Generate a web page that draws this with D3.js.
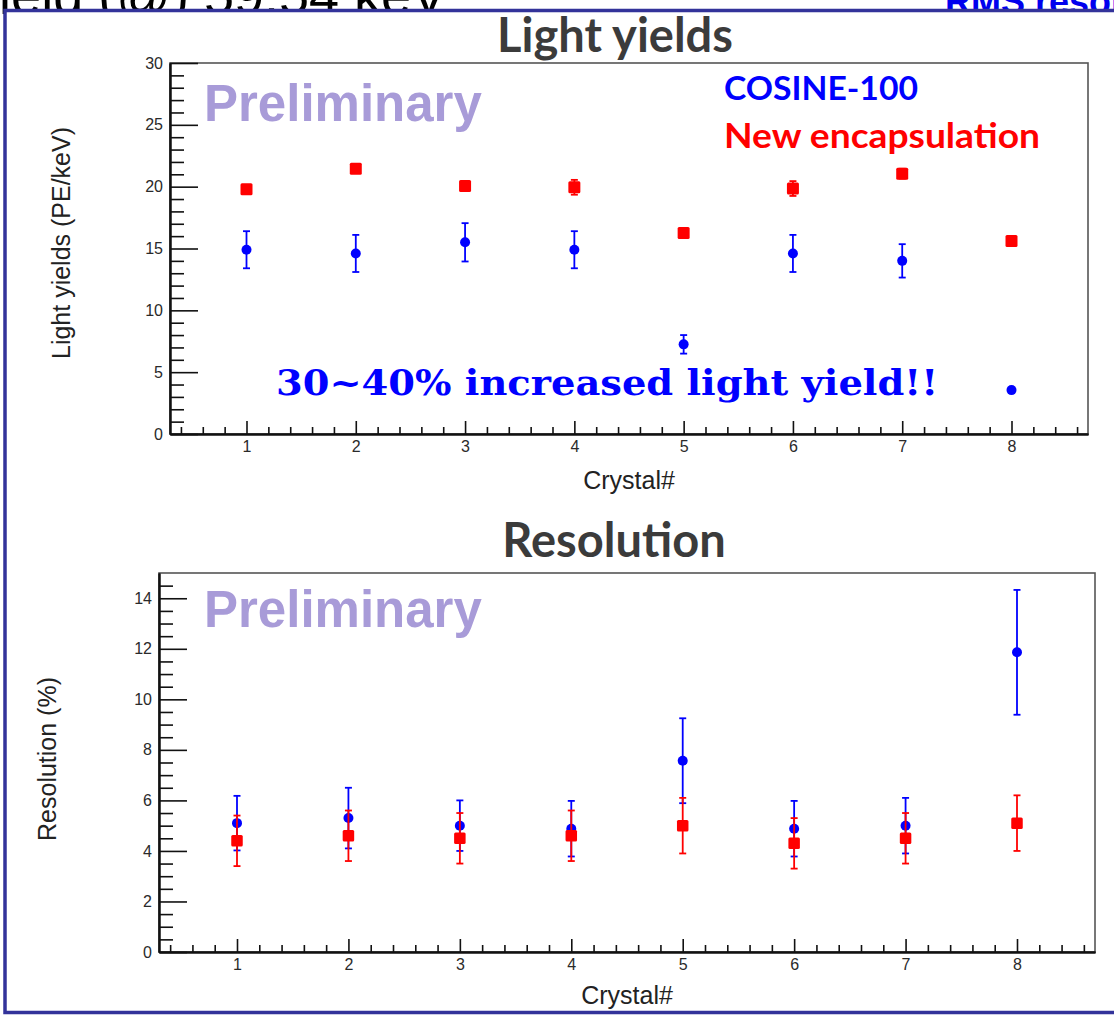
<!DOCTYPE html>
<html>
<head>
<meta charset="utf-8">
<script src="https://cdn.jsdelivr.net/npm/d3@7"></script>
<style>
  html, body { margin: 0; padding: 0; background: #ffffff; }
  svg { display: block; }
</style>
</head>
<body>
<svg id="chart" width="1114" height="1017"></svg>
<script>
// Crystal numbers shared by both panels
const crystals = [1, 2, 3, 4, 5, 6, 7, 8];

// Light yield (PE/keV) with uncertainties
const lyCosine    = [14.9, 14.6, 15.5, 14.9, 7.25, 14.6, 14.0, 3.55];
const lyCosineErr = [1.5, 1.5, 1.55, 1.5, 0.75, 1.5, 1.35, 0.2];
const lyNew       = [19.8, 21.45, 20.05, 19.95, 16.25, 19.85, 21.05, 15.6];
const lyNewErr    = [0.3, 0.3, 0.3, 0.6, 0.3, 0.6, 0.4, 0.25];

// Energy resolution (%) with uncertainties
const resCosine    = [5.1, 5.3, 5.0, 4.88, 7.57, 4.88, 5.0, 11.86];
const resCosineErr = [1.08, 1.2, 1.0, 1.1, 1.68, 1.1, 1.1, 2.47];
const resNew       = [4.4, 4.6, 4.5, 4.6, 5.0, 4.3, 4.5, 5.1];
const resNewErr    = [1.0, 1.0, 1.0, 1.0, 1.1, 1.0, 1.0, 1.1];

// Axis ticks
const xMajorTicks = [1, 2, 3, 4, 5, 6, 7, 8];
const lyMajorTicks = [0, 5, 10, 15, 20, 25, 30];
const resMajorTicks = [0, 2, 4, 6, 8, 10, 12, 14];

const svg = d3.select("#chart");
const SANS = "'Liberation Sans', Arial, Helvetica, sans-serif";
const TITLE_FONT = "Lato, 'Open Sans', sans-serif";
const BLUE = "#0000ff", RED = "#ff0000";

// Slide text lying behind the figure box
svg.append("text")
  .attr("x", -160).attr("y", 14)
  .attr("font-family", SANS).attr("font-size", 54)
  .attr("fill", "#000")
  .text("Light yield (@) 59.54 keV");
svg.append("text")
  .attr("x", 945).attr("y", 14)
  .attr("font-family", SANS).attr("font-size", 36).attr("font-weight", "bold")
  .attr("fill", "#0000ee")
  .text("RMS resolution");

// Figure box
svg.append("rect")
  .attr("x", 5).attr("y", 10.5).attr("width", 1130).attr("height", 1002)
  .attr("fill", "#ffffff").attr("stroke", "#33339a").attr("stroke-width", 3.5);

function range(a, b, step) {
  const out = [];
  for (let v = a; v <= b + 1e-9; v += step) out.push(+v.toFixed(3));
  return out;
}

function drawPanel(cfg) {
  const x = d3.scaleLinear().domain([0.3, 8.7]).range([cfg.left, cfg.right]);
  const y = d3.scaleLinear().domain(cfg.yDomain).range([cfg.bottom, cfg.top]);
  const g = svg.append("g");

  // Panel title
  g.append("text")
    .attr("x", cfg.titleX).attr("y", cfg.titleY)
    .attr("text-anchor", "middle")
    .attr("font-family", TITLE_FONT).attr("font-weight", "bold")
    .attr("font-size", 47).attr("fill", "#3b3b3b")
    .text(cfg.title);

  // Frame
  g.append("rect")
    .attr("x", cfg.left).attr("y", cfg.top)
    .attr("width", cfg.right - cfg.left).attr("height", cfg.bottom - cfg.top)
    .attr("fill", "none").attr("stroke", "#555").attr("stroke-width", 1.6);

  // Minor ticks
  const yMinor = g.append("g").attr("transform", `translate(${cfg.left},0)`)
    .call(d3.axisLeft(y).tickValues(cfg.yMinor.filter(v => !cfg.yMajor.includes(v)))
      .tickSizeInner(-14).tickSizeOuter(0).tickFormat(""));
  const xMinor = g.append("g").attr("transform", `translate(0,${cfg.bottom})`)
    .call(d3.axisBottom(x).tickValues(range(0.4, 8.6, 0.2).filter(v => !xMajorTicks.includes(v)))
      .tickSizeInner(-7).tickSizeOuter(0).tickFormat(""));

  // Major ticks with labels
  const yAxis = g.append("g").attr("transform", `translate(${cfg.left},0)`)
    .call(d3.axisLeft(y).tickValues(cfg.yMajor).tickSizeInner(-28).tickSizeOuter(0)
      .tickPadding(7).tickFormat(d3.format("d")));
  const xAxis = g.append("g").attr("transform", `translate(0,${cfg.bottom})`)
    .call(d3.axisBottom(x).tickValues(xMajorTicks).tickSizeInner(-13).tickSizeOuter(0)
      .tickPadding(7).tickFormat(d3.format("d")));

  [yMinor, xMinor, yAxis, xAxis].forEach(a => {
    a.selectAll("line").attr("stroke", "#111").attr("stroke-width", 1.6);
    a.select(".domain").attr("stroke", "#111").attr("stroke-width", 2);
    a.selectAll("text").attr("font-family", SANS).attr("font-size", 16).attr("fill", "#2a2a2a");
  });

  // Axis titles
  g.append("text")
    .attr("x", (cfg.left + cfg.right) / 2).attr("y", cfg.xTitleY)
    .attr("text-anchor", "middle")
    .attr("font-family", SANS).attr("font-size", 25).attr("fill", "#222")
    .text("Crystal#");
  g.append("text")
    .attr("transform", `translate(${cfg.yTitleX},${cfg.yTitleCY}) rotate(-90)`)
    .attr("text-anchor", "middle")
    .attr("font-family", SANS).attr("font-size", 25).attr("fill", "#222")
    .text(cfg.yTitle);

  // Watermark
  g.append("text")
    .attr("x", 204).attr("y", cfg.prelimY)
    .attr("font-family", SANS).attr("font-weight", "bold")
    .attr("font-size", 51).attr("fill", "#a89bd8")
    .text("Preliminary");

  // Data series: error bars and markers
  function series(vals, errs, color, marker) {
    const s = g.append("g");
    const pts = crystals.map((c, i) => ({ c, v: vals[i], e: errs[i] }));
    const eb = s.selectAll("g.eb").data(pts).join("g").attr("class", "eb")
      .attr("stroke", color).attr("stroke-width", 1.8);
    eb.append("line")
      .attr("x1", d => x(d.c)).attr("x2", d => x(d.c))
      .attr("y1", d => y(d.v - d.e)).attr("y2", d => y(d.v + d.e));
    eb.append("line")
      .attr("x1", d => x(d.c) - 3.5).attr("x2", d => x(d.c) + 3.5)
      .attr("y1", d => y(d.v - d.e)).attr("y2", d => y(d.v - d.e));
    eb.append("line")
      .attr("x1", d => x(d.c) - 3.5).attr("x2", d => x(d.c) + 3.5)
      .attr("y1", d => y(d.v + d.e)).attr("y2", d => y(d.v + d.e));
    if (marker === "circle") {
      s.selectAll("circle").data(pts).join("circle")
        .attr("cx", d => x(d.c)).attr("cy", d => y(d.v))
        .attr("r", cfg.circleR).attr("fill", color);
    } else {
      const h = cfg.squareSize / 2;
      s.selectAll("rect").data(pts).join("rect")
        .attr("x", d => x(d.c) - h).attr("y", d => y(d.v) - h)
        .attr("width", 2 * h).attr("height", 2 * h)
        .attr("rx", 1.5).attr("fill", color);
    }
  }
  series(cfg.blue, cfg.blueErr, BLUE, "circle");
  series(cfg.red, cfg.redErr, RED, "square");
  return g;
}

const lightPanel = drawPanel({
  title: "Light yields", titleX: 615, titleY: 52,
  left: 170, right: 1088, top: 63, bottom: 434,
  yDomain: [0, 30], yMajor: lyMajorTicks, yMinor: range(0, 30, 1),
  yTitle: "Light yields (PE/keV)", yTitleX: 70, yTitleCY: 243,
  xTitleY: 489, prelimY: 121,
  blue: lyCosine, blueErr: lyCosineErr, red: lyNew, redErr: lyNewErr,
  circleR: 5, squareSize: 12
});

// Legend labels and remark in the light-yield panel
lightPanel.append("text")
  .attr("x", 724).attr("y", 100)
  .attr("font-family", TITLE_FONT).attr("font-weight", "bold")
  .attr("font-size", 33).attr("fill", BLUE)
  .attr("textLength", 194).attr("lengthAdjust", "spacingAndGlyphs")
  .text("COSINE-100");
lightPanel.append("text")
  .attr("x", 724).attr("y", 148)
  .attr("font-family", TITLE_FONT).attr("font-weight", "bold")
  .attr("font-size", 34).attr("fill", RED)
  .attr("textLength", 316).attr("lengthAdjust", "spacingAndGlyphs")
  .text("New encapsulation");
lightPanel.append("text")
  .attr("x", 276).attr("y", 395)
  .attr("font-family", "'DejaVu Serif', 'Liberation Serif', serif").attr("font-weight", "bold")
  .attr("font-size", 36).attr("fill", BLUE)
  .attr("textLength", 662).attr("lengthAdjust", "spacingAndGlyphs")
  .text("30~40% increased light yield!!");

drawPanel({
  title: "Resolution", titleX: 614, titleY: 557,
  left: 159, right: 1095, top: 573, bottom: 952,
  yDomain: [0, 15], yMajor: resMajorTicks, yMinor: range(0, 14.5, 0.5),
  yTitle: "Resolution (%)", yTitleX: 56, yTitleCY: 759,
  xTitleY: 1004, prelimY: 627,
  blue: resCosine, blueErr: resCosineErr, red: resNew, redErr: resNewErr,
  circleR: 5, squareSize: 11.5
});
</script>
</body>
</html>
